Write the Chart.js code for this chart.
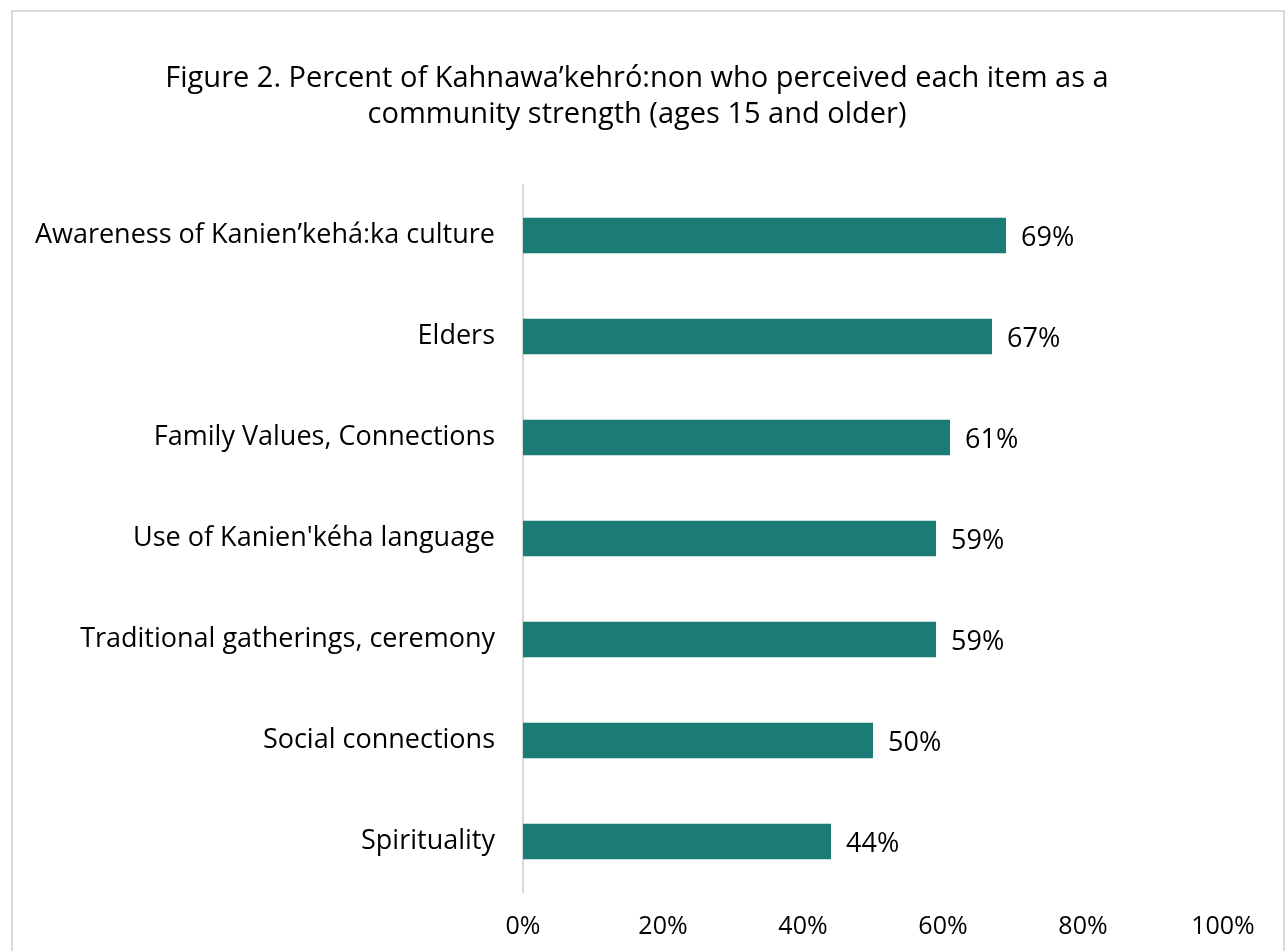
<!DOCTYPE html>
<html>
<head>
<meta charset="utf-8">
<script src="https://cdn.jsdelivr.net/npm/chart.js@4/dist/chart.umd.min.js"></script>
<style>
  html, body { margin: 0; padding: 0; background: #fff; }
  .frame {
    position: absolute; left: 11px; top: 10px;
    width: 1270px; height: 980px;
    border: 2px solid #d9d9d9;
  }
  .wrap { position: absolute; left: 0; top: 0; width: 1285px; height: 951px; }
</style>
</head>
<body>
<div class="frame"></div>
<div class="wrap"><canvas id="chart" width="1285" height="951"></canvas></div>
<script>
const categories = [
  "Awareness of Kanien\u2019keh\u00e1:ka culture",
  "Elders",
  "Family Values, Connections",
  "Use of Kanien'k\u00e9ha language",
  "Traditional gatherings, ceremony",
  "Social connections",
  "Spirituality"
];
const percents = [69, 67, 61, 59, 59, 50, 44];
const xTicks = [0, 20, 40, 60, 80, 100];
const titleLines = [
  "Figure 2. Percent of Kahnawa\u2019kehr\u00f3:non who perceived each item as a",
  "community strength (ages 15 and older)"
];

const FONT = "'Open Sans', sans-serif";
const barColor = "#1a7c75";

// two-line heading, centred over the whole figure rather than the plot
const heading = {
  id: "heading",
  afterDraw(chart) {
    const ctx = chart.ctx;
    ctx.save();
    ctx.font = "29px " + FONT;
    ctx.fillStyle = "#000";
    ctx.textAlign = "center";
    ctx.textBaseline = "middle";
    titleLines.forEach((line, i) => ctx.fillText(line, 637, 79 + i * 36));
    ctx.restore();
  }
};

// writes the value after the end of each bar
const valueLabels = {
  id: "valueLabels",
  afterDatasetsDraw(chart) {
    const ctx = chart.ctx;
    const meta = chart.getDatasetMeta(0);
    ctx.save();
    ctx.font = "27px " + FONT;
    ctx.fillStyle = "#000";
    ctx.textAlign = "left";
    ctx.textBaseline = "middle";
    meta.data.forEach((bar, i) => {
      ctx.fillText(percents[i] + "%", bar.x + 15, bar.y + 3);
    });
    ctx.restore();
  }
};

new Chart(document.getElementById("chart"), {
  type: "bar",
  data: {
    labels: categories,
    datasets: [{
      data: percents,
      backgroundColor: barColor,
      borderWidth: 0,
      barPercentage: 0.35,
      categoryPercentage: 1
    }]
  },
  options: {
    indexAxis: "y",
    responsive: false,
    animation: false,
    layout: { padding: { left: 0, right: 62, top: 185, bottom: 9 } },
    plugins: {
      legend: { display: false },
      tooltip: { enabled: false },
      title: { display: false }
    },
    scales: {
      x: {
        min: 0,
        max: 100,
        afterBuildTicks(scale) {
          scale.ticks = xTicks.map(v => ({ value: v }));
        },
        afterFit(scale) { scale.height = 50; },
        grid: { display: false, drawTicks: false },
        border: { display: false },
        ticks: {
          padding: 20,
          color: "#000",
          font: { family: FONT, size: 25 },
          callback: v => v + "%"
        }
      },
      y: {
        afterFit(scale) {
          scale.width = 523;
          scale.paddingTop = 0;
          scale.paddingBottom = 0;
        },
        grid: { display: false, drawTicks: false },
        border: { display: true, color: "#d9d9d9", width: 2 },
        ticks: {
          padding: 28,
          color: "#000",
          font: { family: FONT, size: 27 }
        }
      }
    }
  },
  plugins: [valueLabels, heading]
});
</script>
</body>
</html>
